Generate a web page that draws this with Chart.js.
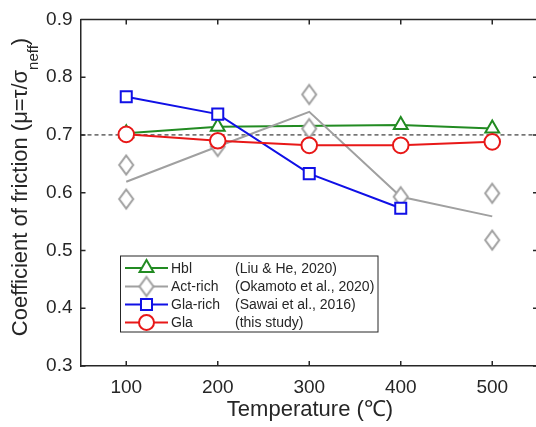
<!DOCTYPE html>
<html lang="en">
<head>
    <meta charset="UTF-8">
    <title>Coefficient of friction vs temperature</title>
    <script src="https://cdn.jsdelivr.net/npm/chart.js@4"></script>
    <style>
        html, body { margin: 0; padding: 0; background: #fff; overflow: hidden; }
        /* the original figure is cropped just past the right axis */
        #wrap { width: 536px; height: 427px; position: relative; overflow: hidden; }
    </style>
</head>
<body>
    <div id="wrap"><canvas id="mu-chart" width="548" height="427"></canvas></div>

    <script>
        // data
        const xTicks = [100, 200, 300, 400, 500];
        const hblTemps = [100, 200, 400, 500];
        const hblMu = [0.703, 0.714, 0.717, 0.711];
        const actTemps = [100, 100, 200, 300, 300, 400, 500, 500];
        const actMu = [0.648, 0.589, 0.680, 0.770, 0.711, 0.593, 0.599, 0.518];
        const actMeanTemps = [100, 200, 300, 400, 500];
        const actMeanMu = [0.619, 0.680, 0.740, 0.593, 0.559];
        const glaRichTemps = [100, 200, 300, 400];
        const glaRichMu = [0.766, 0.736, 0.633, 0.573];
        const glaTemps = [100, 200, 300, 400, 500];
        const glaMu = [0.701, 0.690, 0.682, 0.682, 0.688];
        const refMu = 0.7;

        const legendNames = ['Hbl', 'Act-rich', 'Gla-rich', 'Gla'];
        const legendRefs = ['(Liu & He, 2020)', '(Okamoto et al., 2020)', '(Sawai et al., 2016)', '(this study)'];

        const GREEN = '#228b22', GRAY = '#a0a0a0', BLUE = '#1010e6', RED = '#e81818', INK = '#262626';
        const FONT = "'Liberation Sans', Arial, Helvetica, sans-serif";

        const pts = (xs, ys) => xs.map((x, i) => ({ x: x, y: ys[i] }));

        // matlab style diamond (taller than wide)
        function makeDiamond() {
            const c = document.createElement('canvas');
            c.width = 18; c.height = 24;
            const g = c.getContext('2d');
            g.beginPath();
            g.moveTo(9, 2.5); g.lineTo(16, 12); g.lineTo(9, 21.5); g.lineTo(2, 12); g.closePath();
            g.fillStyle = '#fff'; g.fill();
            g.lineWidth = 2; g.strokeStyle = GRAY; g.stroke();
            return c;
        }
        const diamond = makeDiamond();

        const legendStyles = [
            { color: GREEN, pointStyle: 'triangle', radius: 8 },
            { color: GRAY, pointStyle: diamond, radius: 9 },
            { color: BLUE, pointStyle: 'rect', radius: 7.8 },
            { color: RED, pointStyle: 'circle', radius: 7.5 }
        ];

        const framePlugin = {
            id: 'frame',
            afterDatasetsDraw(chart) {
                const ctx = chart.ctx;
                const a = chart.chartArea;
                const xs = chart.scales.x, ys = chart.scales.y;
                ctx.save();
                ctx.strokeStyle = INK;
                ctx.lineWidth = 1.5;
                ctx.beginPath();
                ctx.moveTo(a.left, a.top); ctx.lineTo(a.right, a.top);
                ctx.moveTo(a.right, a.top); ctx.lineTo(a.right, a.bottom);
                // inward ticks
                xTicks.forEach(v => {
                    const px = xs.getPixelForValue(v);
                    ctx.moveTo(px, a.bottom); ctx.lineTo(px, a.bottom - 5);
                    ctx.moveTo(px, a.top); ctx.lineTo(px, a.top + 5);
                });
                ys.ticks.forEach(t => {
                    const py = ys.getPixelForValue(t.value);
                    ctx.moveTo(a.left, py); ctx.lineTo(a.left + 5, py);
                    ctx.moveTo(a.right, py); ctx.lineTo(a.right - 5, py);
                });
                ctx.stroke();

                // legend box
                const bx = 120.5, by = 256, bw = 257.5, bh = 76;
                ctx.fillStyle = '#fff';
                ctx.fillRect(bx, by, bw, bh);
                ctx.lineWidth = 1;
                ctx.strokeStyle = INK;
                ctx.strokeRect(bx, by, bw, bh);
                const rows = [268, 286.5, 304.5, 322.5];
                ctx.font = '14px ' + FONT;
                ctx.textBaseline = 'middle';
                legendStyles.forEach((s, i) => {
                    const y = rows[i];
                    ctx.strokeStyle = s.color;
                    ctx.lineWidth = 2;
                    ctx.beginPath();
                    ctx.moveTo(125, y); ctx.lineTo(168, y);
                    ctx.stroke();
                    ctx.fillStyle = '#fff';
                    Chart.helpers.drawPoint(ctx, { pointStyle: s.pointStyle, radius: s.radius, rotation: 0, borderWidth: 2 }, 146.5, y);
                    ctx.fillStyle = INK;
                    ctx.fillText(legendNames[i], 171, y + 1);
                    ctx.fillText(legendRefs[i], 235, y + 1);
                });

                // x title
                ctx.font = '22px ' + FONT;
                ctx.textAlign = 'center';
                ctx.textBaseline = 'middle';
                ctx.fillStyle = INK;
                ctx.fillText('Temperature (\u2103)', 310, 410);

                // y title with subscript
                const p1 = 'Coefficient of friction (\u03bc=\u03c4/\u03c3', sub = 'neff', p2 = ')';
                ctx.textAlign = 'left';
                ctx.textBaseline = 'alphabetic';
                ctx.font = '22px ' + FONT;
                const w1 = ctx.measureText(p1).width, w3 = ctx.measureText(p2).width;
                ctx.font = '15px ' + FONT;
                const w2 = ctx.measureText(sub).width;
                const total = w1 + w2 + w3;
                ctx.translate(27, 187);
                ctx.rotate(-Math.PI / 2);
                let x0 = -total / 2;
                ctx.font = '22px ' + FONT;
                ctx.fillText(p1, x0, 0);
                ctx.font = '15px ' + FONT;
                ctx.fillText(sub, x0 + w1, 11);
                ctx.font = '22px ' + FONT;
                ctx.fillText(p2, x0 + w1 + w2, 0);
                ctx.restore();
            }
        };

        new Chart(document.getElementById('mu-chart'), {
            type: 'line',
            data: {
                datasets: [
                    {
                        label: 'Gla',
                        data: pts(glaTemps, glaMu),
                        borderColor: RED, backgroundColor: '#fff',
                        borderWidth: 2, pointStyle: 'circle', pointRadius: 7.8, pointBorderWidth: 2,
                        order: 0
                    },
                    {
                        label: 'Gla-rich',
                        data: pts(glaRichTemps, glaRichMu),
                        borderColor: BLUE, backgroundColor: '#fff',
                        borderWidth: 2, pointStyle: 'rect', pointRadius: 7.8, pointBorderWidth: 2,
                        order: 1
                    },
                    {
                        label: 'Act-rich',
                        data: pts(actTemps, actMu),
                        showLine: false,
                        borderColor: GRAY, backgroundColor: '#fff',
                        pointStyle: diamond, pointRadius: 9,
                        order: 2
                    },
                    {
                        label: 'Act-rich mean',
                        data: pts(actMeanTemps, actMeanMu),
                        borderColor: GRAY, borderWidth: 2, pointRadius: 0,
                        order: 3
                    },
                    {
                        label: 'Hbl',
                        data: pts(hblTemps, hblMu),
                        borderColor: GREEN, backgroundColor: '#fff',
                        borderWidth: 2, pointStyle: 'triangle', pointRadius: 8, pointBorderWidth: 2,
                        order: 4
                    },
                    {
                        label: 'ref',
                        data: [{ x: 50, y: refMu }, { x: 550, y: refMu }],
                        borderColor: '#111', borderWidth: 1, borderDash: [4, 3], pointRadius: 0,
                        order: 5
                    }
                ]
            },
            options: {
                responsive: false,
                animation: false,
                events: [],
                layout: { padding: { top: 17.5, right: 0, left: 0, bottom: 0 } },
                plugins: { legend: { display: false }, tooltip: { enabled: false } },
                scales: {
                    x: {
                        type: 'linear', min: 50, max: 550,
                        afterBuildTicks: s => { s.ticks = xTicks.map(v => ({ value: v })); },
                        afterFit: s => { s.height = 61; },
                        grid: { display: false, drawTicks: false },
                        border: { display: true, color: INK, width: 1.5 },
                        ticks: { color: INK, padding: 10, font: { family: FONT, size: 19 } }
                    },
                    y: {
                        min: 0.3, max: 0.9,
                        afterFit: s => { s.width = 80.5; },
                        grid: { display: false, drawTicks: false },
                        border: { display: true, color: INK, width: 1.5 },
                        ticks: { stepSize: 0.1, color: INK, padding: 8, font: { family: FONT, size: 19 },
                                 callback: v => v.toFixed(1) }
                    }
                }
            },
            plugins: [framePlugin]
        });
    </script>
</body>
</html>
